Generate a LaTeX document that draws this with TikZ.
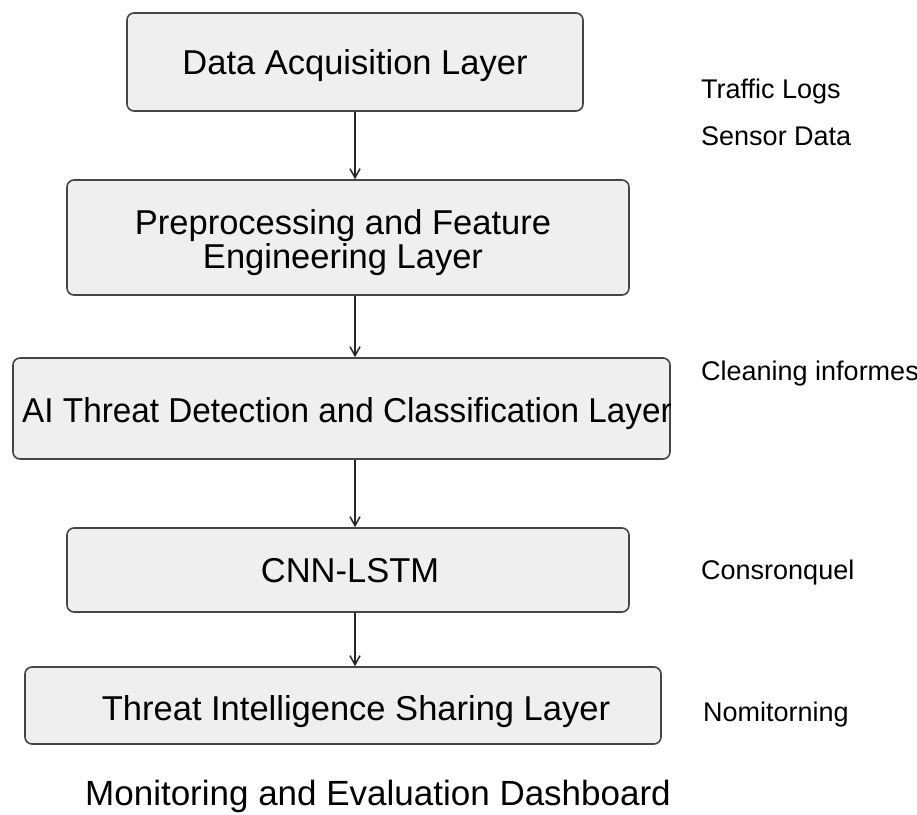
\documentclass[tikz,border=0pt]{standalone}
\usepackage{fontspec}
\setmainfont{Liberation Sans}
\usetikzlibrary{arrows.meta}
\definecolor{boxfill}{HTML}{EFEFEF}
\definecolor{boxline}{HTML}{454545}
\tikzset{
  layerbox/.style={draw=boxline, line width=1.6pt, fill=boxfill, rounded corners=7pt, inner sep=0pt},
  boxtext/.style={inner sep=0pt, anchor=base, font=\fontsize{34.5}{34.5}\selectfont},
  sidetext/.style={inner sep=0pt, anchor=base west, font=\fontsize{27}{27}\selectfont},
  conn/.style={draw=black!85, line width=1.5pt, -{Straight Barb[length=9pt,width=10pt,line width=1.5pt]}}
}
\begin{document}
\begin{tikzpicture}[x=1pt,y=-1pt]
\useasboundingbox[fill=white] (0,0) rectangle (917,814);
% boxes
\node[layerbox, minimum width=456, minimum height=98] (b1) at (355,62) {};
\node[layerbox, minimum width=562, minimum height=115] (b2) at (348,237.5) {};
\node[layerbox, minimum width=657, minimum height=101] (b3) at (341.5,408.5) {};
\node[layerbox, minimum width=562, minimum height=84] (b4) at (348,570) {};
\node[layerbox, minimum width=636, minimum height=77] (b5) at (343,705.5) {};
% texts
\node[boxtext] (t1) at (355,74) {Data Acquisition Layer};
\node[boxtext] (t2a) at (343,234) {Preprocessing and Feature};
\node[boxtext] (t2b) at (343,268.5) {Engineering Layer};
\node[boxtext] (t3) at (347,422.5) {\scalebox{0.965}[1]{AI Threat Detection and Classification Layer}};
\node[boxtext] (t4) at (350,582) {CNN-LSTM};
\node[boxtext] (t5) at (356,720) {Threat Intelligence Sharing Layer};
\node[boxtext, font=\fontsize{35}{35}\selectfont] (title) at (378,805.5) {Monitoring and Evaluation Dashboard};
% side labels
\node[sidetext] (s1) at (701,98) {Traffic Logs};
\node[sidetext] (s2) at (701,145) {Sensor Data};
\node[sidetext] (s3) at (701,380.5) {Cleaning informes};
\node[sidetext] (s4) at (701,579.5) {Consronquel};
\node[sidetext] (s5) at (703,721.5) {Nomitorning};
% connectors
\draw[conn] (b1.south) -- (b1.south |- b2.north);
\draw[conn] (b2.south -| b1.south) -- (b1.south |- b3.north);
\draw[conn] (b3.south -| b1.south) -- (b1.south |- b4.north);
\draw[conn] (b4.south -| b1.south) -- (b1.south |- b5.north);
\end{tikzpicture}
\end{document}
